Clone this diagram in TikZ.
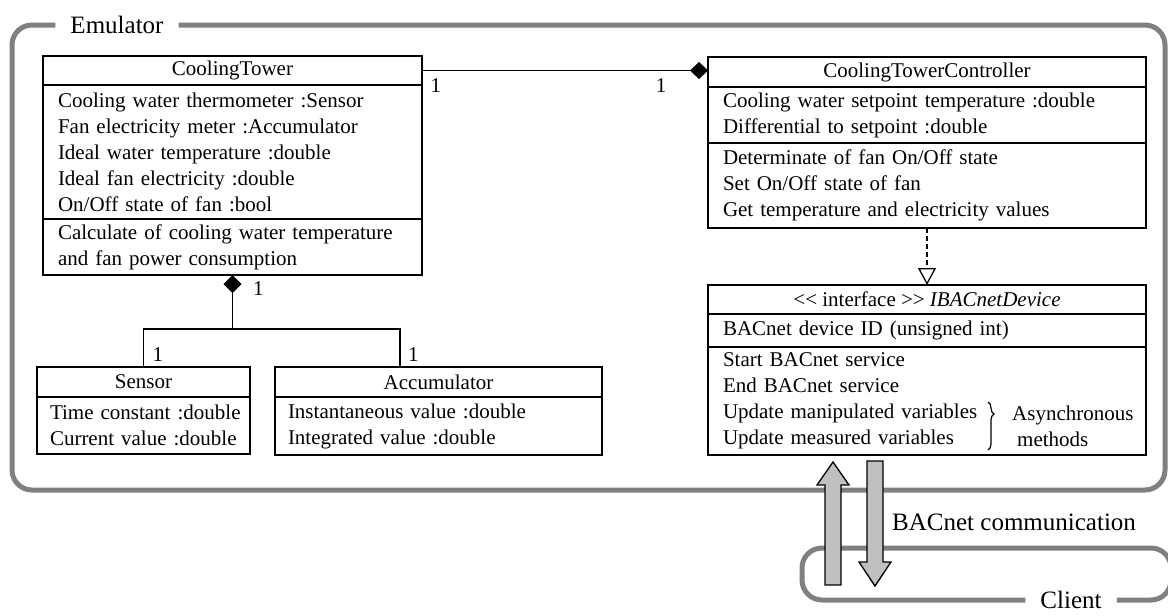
\documentclass[tikz,border=0pt]{standalone}
\usepackage{fontspec}
\setmainfont{Liberation Serif}
\usetikzlibrary{arrows.meta, decorations.pathreplacing, calc}
\definecolor{framegray}{HTML}{808080}
\definecolor{arrowgray}{HTML}{C0C0C0}
\tikzstyle{head} = [rectangle, 
draw=black, 
line width=1.4pt,
anchor=north west,
inner sep=0pt, outer sep=0pt,
text centered, 
font=\fontsize{21}{26}\selectfont]
\tikzstyle{body} = [rectangle, 
draw=black, 
line width=1.4pt,
anchor=north west,
inner xsep=15pt, inner ysep=0pt, outer sep=0pt,
align=left,
font=\fontsize{21}{26}\selectfont]
\tikzstyle{mult} = [inner sep=2pt, 
font=\fontsize{21}{26}\selectfont]
\tikzstyle{framelabel} = [inner xsep=15pt, 
inner ysep=0pt,
font=\fontsize{25}{30}\selectfont]
\tikzstyle{frame} = [line width=5pt, draw=framegray, rounded corners=20pt]
\tikzstyle{assoc} = [line width=1.3pt]
\tikzstyle{bigarrow} = [draw=black, line width=1.3pt, fill=arrowgray]

\begin{document}
\begin{tikzpicture}[x=1pt, y=-1pt]
		\useasboundingbox (0,0) rectangle (1168,616);
		% frames
		\node (emu) [framelabel] at (117,25) {Emulator};
		\draw [frame] (emu.east) -- (1165,25) -- (1165,490) -- (12,490) -- (12,25) -- (emu.west);
		\node (cli) [framelabel] at (1071,600) {Client};
		\draw [frame] (cli.east) -- (1171,600) -- (1171,548) -- (802,548) -- (802,600) -- (cli.west);
		% classes
		\node (ct) [head, minimum width=379pt, minimum height=29pt] at (43,56) {CoolingTower};
		\node (ctattr) [body, text width=349pt, minimum height=134pt] at (ct.south west) {Cooling water thermometer :Sensor\\ Fan electricity meter :Accumulator\\ Ideal water temperature :double\\ Ideal fan electricity :double\\ On/Off state of fan :bool};
		\node (ctops) [body, text width=349pt, minimum height=56pt] at (ctattr.south west) {Calculate of cooling water temperature\\ and fan power consumption};
		\node (ctrl) [head, minimum width=438pt, minimum height=30pt] at (708,57) {CoolingTowerController};
		\node (ctrlattr) [body, text width=408pt, minimum height=56pt] at (ctrl.south west) {Cooling water setpoint temperature :double\\ Differential to setpoint :double};
		\node (ctrlops) [body, text width=408pt, minimum height=85pt] at (ctrlattr.south west) {Determinate of fan On/Off state\\ Set On/Off state of fan\\ Get temperature and electricity values};
		\node (iface) [head, minimum width=438pt, minimum height=29pt] at (708,285) {<{}< interface >{}> \textit{IBACnetDevice}};
		\node (ifaceattr) [body, text width=408pt, minimum height=33pt] at (iface.south west) {BACnet device ID (unsigned int)};
		\node (ifaceops) [body, text width=408pt, minimum height=108pt] at (ifaceattr.south west) {Start BACnet service\\ End BACnet service\\ Update manipulated variables\\ Update measured variables};
		\node (sen) [head, minimum width=213pt, minimum height=30pt] at (37,367) {Sensor};
		\node (senattr) [body, inner xsep=13pt, text width=187pt, minimum height=57pt] at (sen.south west) {\mbox{Time constant :double}\\ \mbox{Current value :double}};
		\node (acc) [head, minimum width=327pt, minimum height=30pt] at (275,367) {Accumulator};
		\node (accattr) [body, inner xsep=13pt, text width=301pt, minimum height=58pt] at (acc.south west) {Instantaneous value :double\\ Integrated value :double};
		% relations
		\draw [assoc, -{Diamond[length=18pt, width=17pt]}] (ct.east) -- (ct.east -| ctrl.west)
			node (m1) [mult, pos=0, anchor=north west, xshift=6pt, yshift=-5pt] {1}
			node (m2) [mult, pos=1, anchor=north east, xshift=-39pt, yshift=-5pt] {1};
		\draw [assoc, {Diamond[length=18pt, width=18pt]}-] (ctops.south) -- ++(0,54) coordinate (tee)
			node (m3) [mult, pos=0, anchor=north west, xshift=18pt, yshift=-4pt] {1};
		\coordinate (accjoin) at ($(acc.north west)+(125,0)$);
		\draw [assoc] (sen.north) |- (tee) -| (accjoin);
		\node (m4) [mult, anchor=south west, xshift=7pt, yshift=3pt] at (sen.north) {1};
		\node (m5) [mult, anchor=south west, xshift=6pt, yshift=3pt] at (accjoin) {1};
		\draw [assoc, dash pattern=on 5pt off 3pt, -{Triangle[open, length=17pt, width=18pt]}] (ctrlops.south) -- (iface.north);
		% asynchronous note
		\coordinate (br1) at (988,402);
		\coordinate (br2) at (988,450);
		\draw [decorate, decoration={brace, amplitude=6pt, aspect=0.25}, line width=1.2pt] (br1) -- (br2);
		\node (async) [mult, align=left, anchor=west] at ($(br1)!0.5!(br2)+(22,0)$) {Asynchronous\\ \hspace{5pt}methods};
		% BACnet communication
		\draw [bigarrow] (825,585) -- (825,485) -- (817,485) -- (833,462) -- (849,485) -- (841,485) -- (841,585) -- cycle;
		\draw [bigarrow] (867,461) -- (883,461) -- (883,562) -- (891,562) -- (875,586) -- (859,562) -- (867,562) -- cycle;
		\node (comm) [framelabel, inner xsep=0pt, anchor=west] at (892,522) {BACnet communication};
	\end{tikzpicture}
\end{document}
